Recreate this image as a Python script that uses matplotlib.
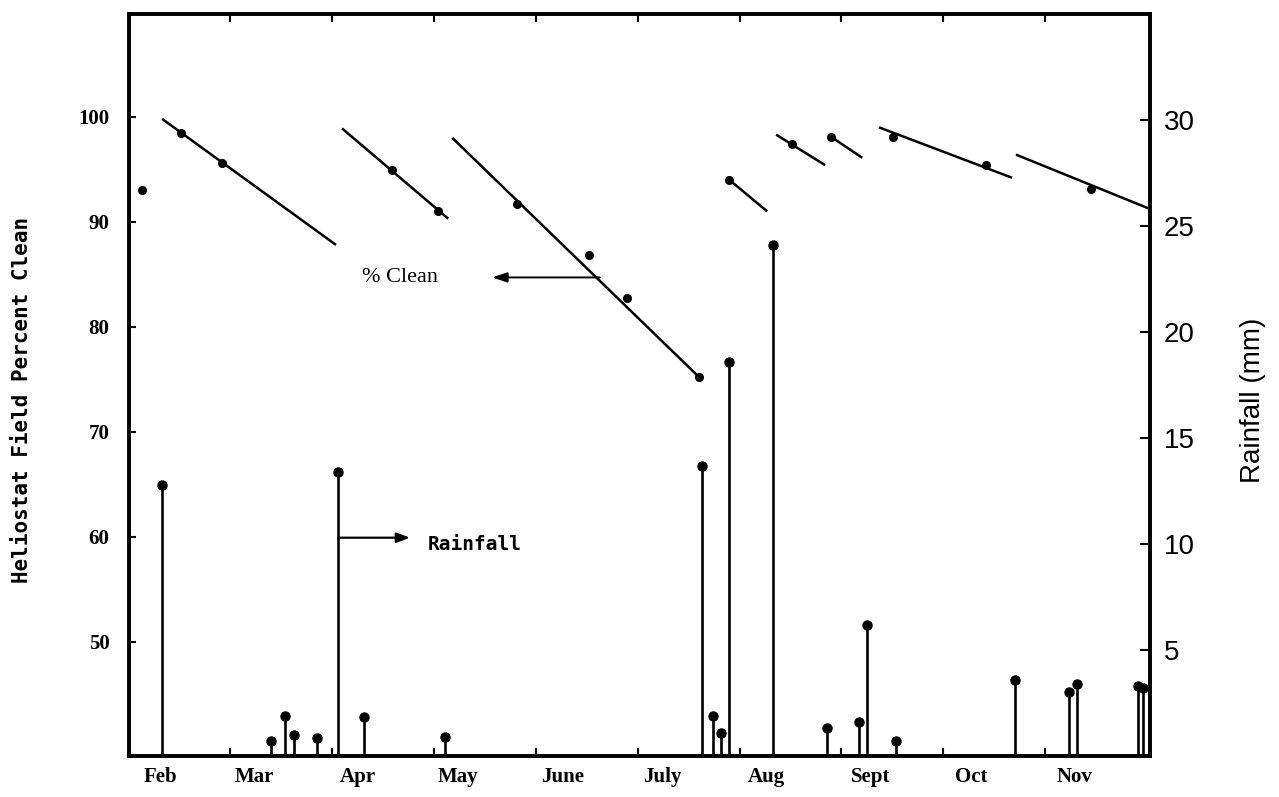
import numpy as np
import matplotlib
matplotlib.use('Agg')
import matplotlib.pyplot as plt

# x axis is day of year
month_labels = ['Feb', 'Mar', 'Apr', 'May', 'June', 'July', 'Aug', 'Sept', 'Oct', 'Nov']
month_start = [32, 60, 91, 121, 152, 182, 213, 244, 274, 305]

# heliostat field % clean measurements (left axis)
clean_day = [26.6, 38.3, 50.5, 101.3, 115.0, 138.6, 160.0, 171.4, 192.9,
             201.9, 220.7, 232.3, 250.8, 278.6, 309.9]
clean_pct = [93.0, 98.5, 95.6, 94.9, 91.0, 91.7, 86.8, 82.7, 75.2,
             94.0, 97.4, 98.1, 98.1, 95.4, 93.1]

# fitted soiling lines between cleanings
fit_start_day = [32.6, 86.3, 119.2, 201.9, 215.9, 232.3, 246.6, 287.5]
fit_start_pct = [99.8, 98.9, 98.0, 94.0, 98.3, 98.1, 99.0, 96.4]
fit_end_day = [84.5, 118.0, 192.9, 213.2, 230.5, 241.6, 286.3, 326.9]
fit_end_pct = [87.8, 90.3, 75.2, 91.0, 95.4, 96.1, 94.2, 91.3]

# rainfall events (right axis, mm)
rain_day = [32.6, 65.1, 69.3, 72.0, 78.9, 85.1, 92.9, 117.1, 193.8, 197.1,
            199.5, 201.9, 215.0, 231.1, 240.7, 243.0, 251.7, 287.2, 303.3,
            305.7, 323.9, 325.4]
rain_mm = [12.8, 0.7, 1.9, 1.0, 0.85, 13.4, 1.85, 0.9, 13.7, 1.9,
           1.1, 18.6, 24.1, 1.3, 1.6, 6.2, 0.7, 3.6, 3.0, 3.4, 3.3, 3.2]

serif = 'Liberation Serif'
mono = 'DejaVu Sans Mono'

fig = plt.figure(figsize=(12.79, 7.97), dpi=100)
ax = fig.add_axes([129 / 1279, 1 - 756 / 797, 1021 / 1279, 742 / 797])
ax2 = ax.twinx()

# % clean
for x0, y0, x1, y1 in zip(fit_start_day, fit_start_pct, fit_end_day, fit_end_pct):
    ax.plot([x0, x1], [y0, y1], color='black', lw=1.8, solid_capstyle='butt')
ax.plot(clean_day, clean_pct, 'o', color='black', ms=5.5)

# rainfall stems
ax2.vlines(rain_day, 0, rain_mm, color='black', lw=1.9)
ax2.plot(rain_day, rain_mm, 'o', color='black', ms=6.5)

ax.set_xlim(22.7, 327.5)
ax.set_ylim(39.1, 109.8)
ax2.set_ylim(0, 35.0)

ax.set_xticks(month_start)
ax.set_xticklabels(month_labels, fontfamily=serif, fontweight='bold', fontsize=15)
ax.set_xticks(53 + 30.4 * np.arange(9), minor=True)
ax.tick_params(axis='x', which='major', length=0, pad=8)
ax.tick_params(axis='x', which='minor', direction='in', length=6, width=1.5,
               top=True, bottom=True)

ax.set_yticks([50, 60, 70, 80, 90, 100])
ax.set_yticklabels(['50', '60', '70', '80', '90', '100'],
                   fontfamily=serif, fontweight='bold', fontsize=15)
ax.tick_params(axis='y', direction='in', length=5, width=1.5, pad=14)

ax2.set_yticks([5, 10, 15, 20, 25, 30])
ax2.set_yticklabels(['5', '10', '15', '20', '25', '30'],
                    fontfamily=['Liberation Sans Narrow', 'Liberation Sans'], fontsize=20)
ax2.tick_params(axis='y', direction='in', length=7, width=1.5, pad=10)

for a in (ax, ax2):
    for s in a.spines.values():
        s.set_linewidth(2.6)

# annotations
ax.annotate('', xy=(131.1, 84.7), xytext=(163.3, 84.7),
            arrowprops=dict(arrowstyle='-|>,head_length=0.9,head_width=0.3',
                            color='black', lw=1.4, shrinkA=0, shrinkB=0))
ax.text(103.6, 84.7, '% Clean', fontfamily=serif, fontsize=16,
        ha='center', va='center')

ax.annotate('', xy=(106.6, 59.9), xytext=(85.1, 59.9),
            arrowprops=dict(arrowstyle='-|>,head_length=0.8,head_width=0.3',
                            color='black', lw=1.6, shrinkA=0, shrinkB=0))
ax.text(112.0, 59.3, 'Rainfall', fontfamily=mono, fontweight='bold', fontsize=14,
        ha='left', va='center')

fig.text(22 / 1279, 1 - 400 / 797, 'Heliostat Field Percent Clean',
         fontfamily=mono, fontweight='bold', fontsize=15,
         rotation=90, ha='center', va='center')
fig.text(1253 / 1279, 1 - 400 / 797, 'Rainfall (mm)',
         fontfamily='Liberation Sans', fontsize=20,
         rotation=90, ha='center', va='center')

fig.savefig('out.png', dpi=100)
